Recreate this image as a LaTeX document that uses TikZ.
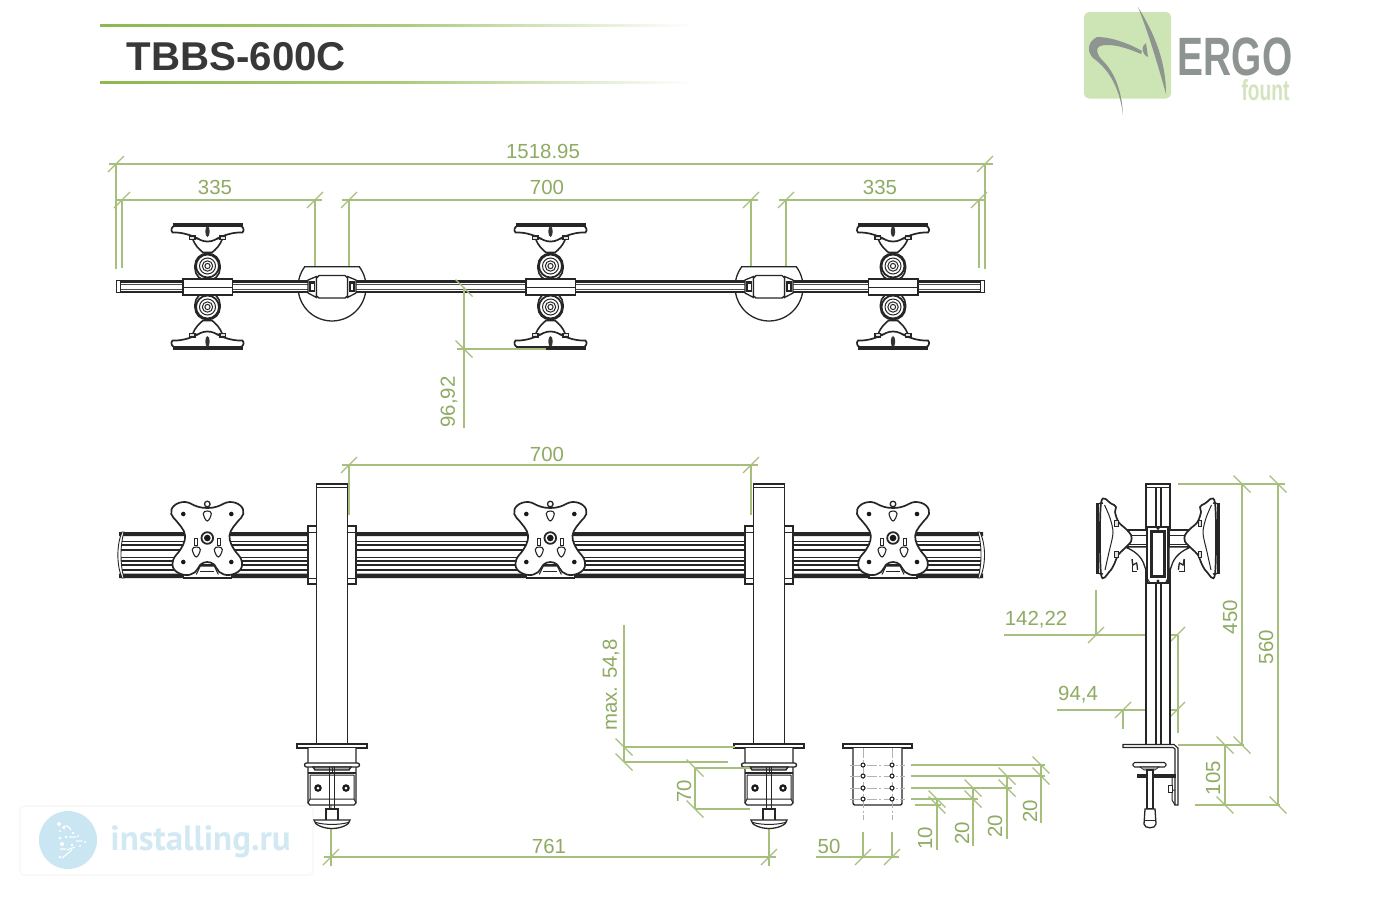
\documentclass[tikz,border=0pt]{standalone}
\usepackage{fontspec}
\setmainfont{Liberation Sans}
\newfontfamily\wmfont{PT Sans}
\definecolor{dimgreen}{HTML}{A6BF7C}
\definecolor{dimtext}{HTML}{8FAA62}
\definecolor{titlegreen}{HTML}{8DB84F}
\definecolor{logobg}{HTML}{CDE4B4}
\definecolor{logogray}{HTML}{8E9591}
\definecolor{fountgreen}{HTML}{D3E3BE}
\definecolor{wmblue}{HTML}{CBE6F3}
\definecolor{wmtext}{HTML}{D2E9F4}
\tikzset{
  dimline/.style={draw=dimgreen,line width=0.6pt},
  dimlabel/.style={text=dimtext,inner sep=0pt,font=\fontsize{10.2pt}{12pt}\selectfont},
  part/.style={draw=black!85,line width=0.65pt,fill=white},
  thin part/.style={draw=black!85,line width=0.5pt},
  heavy part/.style={draw=black!85,line width=1.1pt},
  center dash/.style={draw=black!30,line width=0.4pt,dash pattern=on 5pt off 1.2pt on 1pt off 1.2pt},
}
\newcommand{\tickf}[2]{\draw[dimline] (#1-8,#2+8) -- (#1+8,#2-8);}
\newcommand{\tickb}[2]{\draw[dimline] (#1-8.5,#2-8.5) -- (#1+8.5,#2+8.5);}
% top-view monitor head (upper half, local origin on rail axis)
\newcommand{\headhalf}{%
  \draw[part,line width=0.8pt,rounded corners=6pt] (-12.5,-6) rectangle (12.5,-33);
  \draw[part,line width=0.8pt] (-15,-48) .. controls (-12,-40) and (-8,-37) .. (-4.5,-34) -- (4.5,-34) .. controls (8,-37) and (12,-40) .. (15,-48) -- cycle;
  \draw[part,line width=0.85pt] (-33,-60.5) -- (33,-60.5) .. controls (36,-60) and (37,-56) .. (35,-54)
     .. controls (25,-54.5) and (15,-51) .. (7,-46.5) .. controls (3,-44.5) and (-3,-44.5) .. (-7,-46.5)
     .. controls (-15,-51) and (-25,-54.5) .. (-35,-54) .. controls (-37,-56) and (-36,-60) .. (-33,-60.5) -- cycle;
  \draw[heavy part] (-35,-62) -- (35,-62);
  \draw[part,fill=black!12] (-18,-50.5) rectangle (-12.5,-47);
  \draw[part,fill=black!12] (18,-50.5) rectangle (12.5,-47);
  \fill[black!80] (0,-55) ellipse[x radius=2.2,y radius=5.5];
  \draw[part,line width=0.9pt] (0,-20.5) circle[radius=11.5];
  \draw[thin part] (0,-20.5) circle[radius=8];
  \draw[thin part] (0,-20.5) circle[radius=5.2];
  \draw[thin part] (0,-20.5) circle[radius=2.6];
}
\newcommand{\tophead}[1]{%
  \begin{scope}[shift={(#1,286.5)}]\headhalf\end{scope}
  \begin{scope}[shift={(#1,286.5)},yscale=-1]\headhalf\end{scope}
  \draw[part] (#1-24.5,279) rectangle (#1+25,295);
  \draw[thin part] (#1-24.5,287.5) -- (#1+25,287.5);
}
\newcommand{\topjoint}[1]{%
  \draw[part,fill=white] (#1+27.3,266.7) arc[start angle=-36.6,end angle=216.6,radius=34] -- cycle;
}
\newcommand{\topjointbox}[1]{%
  \draw[part] (#1-24,280) -- (#1-15.5,276.5) -- (#1-15.5,297.5) -- (#1-24,293) -- cycle;
  \draw[part] (#1+24,280) -- (#1+15.5,276.5) -- (#1+15.5,297.5) -- (#1+24,293) -- cycle;
  \fill[black!85] (#1-23,281) rectangle (#1-17,292);
  \fill[white] (#1-21,284) rectangle (#1-18.5,289.5);
  \fill[black!85] (#1+23,281) rectangle (#1+17,292);
  \fill[white] (#1+21,284) rectangle (#1+18.5,289.5);
  \draw[part,line width=0.7pt] (#1-15.5,278) -- (#1-13,275.5) -- (#1+13,275.5) -- (#1+15.5,278) -- (#1+15.5,296) -- (#1+13,298) -- (#1-13,298) -- (#1-15.5,296) -- cycle;
}
\newcommand{\keyhole}[2]{\draw[part,line width=0.55pt] plot[smooth cycle,tension=0.75] coordinates {(#1-4,#2-2.5) (#1,#2-5) (#1+4,#2-2.5) (#1,#2+5)};}
\newcommand{\fronthead}[1]{%
  \begin{scope}[shift={(#1,538)}]
    \draw[part] (-24,30) -- (-24,40) -- (24,40) -- (24,30);
    \draw[part] (0,-34) circle[radius=2.8];
    \draw[part,line width=0.85pt] plot[smooth cycle,tension=0.7] coordinates {
      (0,-30) (10,-31.5) (22,-36) (33,-32.5) (36,-24) (30,-16) (23.5,-7) (22.5,2) (27,11.7) (34,21.7) (33,31.7) (22,37) (12,34) (7,26.7) (0,24)
      (-7,26.7) (-12,34) (-22,37) (-33,31.7) (-34,21.7) (-27,11.7) (-22.5,2) (-23.5,-7) (-30,-16) (-36,-24) (-33,-32.5) (-22,-36) (-10,-31.5)};
    \draw[thin part] (-11,36.5) -- (-7,28) -- (7,28) -- (11,36.5);
    \draw[thin part] (-7,33) -- (7,33);
    \fill[black!90] (-24,-24) circle[radius=2.3] (24,-24) circle[radius=2.3] (-24,24) circle[radius=2.3] (24,24) circle[radius=2.3];
    \keyhole{0}{-22}\keyhole{-11}{14}\keyhole{11}{14}
    \draw[part,line width=0.5pt] (-13,0) rectangle (-10,7);
    \draw[part,line width=0.5pt] (13,0) rectangle (10,7);
    \draw[part,line width=0.9pt] (0,0) circle[radius=5.8];
    \fill[black!90] (0,0) circle[radius=3.3];
  \end{scope}
}
\newcommand{\frontpost}[1]{%
  \draw[part] (#1-24,526) rectangle (#1-15.5,584);
  \draw[thin part] (#1-24,532) -- (#1-15.5,532) (#1-24,578) -- (#1-15.5,578);
  \draw[part] (#1+24,526) rectangle (#1+15.5,584);
  \draw[thin part] (#1+24,532) -- (#1+15.5,532) (#1+24,578) -- (#1+15.5,578);
  \draw[part] (#1-15.5,484) rectangle (#1+15.5,745);
  \draw[heavy part] (#1-15.5,484) -- (#1+15.5,484);
  \draw[thin part] (#1-15.5,487) -- (#1+15.5,487);
}
\newcommand{\frontclamp}[1]{%
  \draw[part] (#1-24,748) -- (#1-24,803) -- (#1-22,805) -- (#1+22,805) -- (#1+24,803) -- (#1+24,748);
  \draw[part,rounded corners=1pt] (#1-27.5,763) rectangle (#1+27.5,767);
  \draw[part,fill=black!35] (#1-19,767) -- (#1+19,767) -- (#1+17,770) -- (#1-17,770) -- cycle;
  \draw[part,line width=0.7pt] (#1-24,773) -- (#1+24,773);
  \draw[thin part] (#1-22,775) -- (#1+22,775) (#1-22,775) -- (#1-22,799) -- (#1+22,799) -- (#1+22,775) (#1-22,799) -- (#1-24,803) (#1+22,799) -- (#1+24,803);
  \draw[part,line width=0.7pt,fill=none] (#1-2.5,767) -- (#1-2.5,809) (#1+2.5,767) -- (#1+2.5,809);
  \draw[thin part] (#1,767) -- (#1,773);
  \fill[black!90] (#1-14,788) circle[radius=3.8];
  \fill[white] (#1-14,788) circle[radius=1.5];
  \fill[black!90] (#1+14,788) circle[radius=3.8];
  \fill[white] (#1+14,788) circle[radius=1.5];
  \draw[part] (#1-6,820) -- (#1-6,809) -- (#1+6,809) -- (#1+6,820);
  \draw[part] (#1-18,820) -- (#1+18,820) .. controls (#1+18,825) and (#1+8,828.5) .. (#1,828.5) .. controls (#1-8,828.5) and (#1-18,825) .. (#1-18,820) -- cycle;
  \draw[thin part] (#1-16,822.5) .. controls (#1-8,825) and (#1+8,825) .. (#1+16,822.5);
}
\newcommand{\sidehalf}{%
  % local x = screen x - 1158
  \draw[part] (-33,530) rectangle (-11,547);
  \draw[thin part] (-33,535.7) -- (-11,535.7) (-33,544) -- (-11,544);
  \draw[part] (-33,547) .. controls (-25,550) and (-16,556) .. (-13.5,566) -- (-11,573) -- (-11,547) -- cycle;
  \draw[part] plot[smooth,tension=0.5] coordinates {(-26,559) (-25,565) (-21.5,563) (-20.5,570)};
  \draw[thin part] (-26,559) -- (-26,571) -- (-21,571);
  \draw[part] (-35,531.5) -- (-33,531.5) -- (-33,545) -- (-35,545) -- cycle;
  \draw[part,line width=0.85pt] plot[smooth cycle,tension=0.55] coordinates {(-57,503) (-47,503.5) (-42,507) (-43,512) (-39.5,522) (-32,529) (-27,535) (-27,541.5) (-33.5,548.5) (-40,555) (-43.5,563.5) (-48.5,571.5) (-57,574)};
  \draw[thin part] plot[smooth,tension=0.5] coordinates {(-53.5,505) (-48,518) (-45,533) (-49,552) (-53,570)};
  \draw[part,line width=0.5pt,fill=black!12] (-43.5,520) rectangle (-40,526);
  \draw[part,line width=0.5pt,fill=black!12] (-43.5,551) rectangle (-40,557);
  \fill[black!85] (-62,503) rectangle (-59,574);
  \draw[part,line width=0.7pt,fill=none] (-59,503.5) -- (-55,503) (-59,573.5) -- (-55,574);
}
\begin{document}
\begin{tikzpicture}[x=0.5pt,y=-0.5pt]
\useasboundingbox (0,0) rectangle (1400,900);
\fill[white] (0,0) rectangle (1400,900);

% ---------- header ----------
\shade[left color=titlegreen,right color=white,middle color=titlegreen!75] (100,24.2) rectangle (692,26.2);
\shade[left color=titlegreen,right color=white,middle color=titlegreen!75] (100,81) rectangle (692,83);
\node[anchor=west,inner sep=0pt,text=black!78,font=\fontsize{20.1pt}{24pt}\selectfont\bfseries] (title) at (126.5,57) {TBBS-600C};

% ---------- logo ----------
\fill[logobg,rounded corners=2.5pt] (1084,12) rectangle (1171,98.5);
\fill[logogray] (1138,7) .. controls (1149,25) and (1166,55) .. (1166,94) .. controls (1157,62) and (1149,35) .. (1138,7) -- cycle;
\fill[logogray] (1123,115) .. controls (1120,90) and (1110,70) .. (1093,58) .. controls (1087,52) and (1087,42) .. (1097,37)
  .. controls (1112,37) and (1130,44) .. (1142,51) -- (1141,54) .. controls (1125,47) and (1110,43) .. (1100,46)
  .. controls (1095,48) and (1097,55) .. (1102,60) .. controls (1115,72) and (1122,92) .. (1123,115) -- cycle;
\fill[logogray] (1146,43) .. controls (1141,46) and (1141,54) .. (1148,57) -- cycle;
\node[inner sep=0pt,text=logogray,text height=19.3pt,text depth=0pt,font=\fontsize{27pt}{30pt}\selectfont\bfseries,xscale=0.72] (logoword) at (1235,56.5) {ERGO};
\node[inner sep=0pt,text=fountgreen,text height=10.3pt,text depth=0pt,font=\fontsize{14.5pt}{16pt}\selectfont\bfseries,xscale=0.66] (logosub) at (1265.5,90.5) {fount};

% ---------- watermark ----------
\draw[draw=black!3,line width=0.6pt,fill=white,rounded corners=2pt] (20,806) rectangle (313,875);
\fill[wmblue] (68,840) circle[radius=29];
\begin{scope}[draw=white,line width=0.55pt,fill=white]
  \fill (59,824) circle[radius=2] (64,828) circle[radius=1.4] (60,831) circle[radius=1.2] (73,833) circle[radius=1.4] (78,836) circle[radius=1.2] (60,838) circle[radius=1.5] (66,837) circle[radius=1.3] (85,842) circle[radius=1.1] (62,844) circle[radius=2] (72,845) circle[radius=1.4] (80,846) circle[radius=1.2] (60,857) circle[radius=1.4];
  \draw (62,828) .. controls (65,824) and (69,826) .. (71,830);
  \draw (69,837) -- (76,837) (76,841) -- (82,841) (67,850) -- (75,847) (62,858) -- (72,850) (60,849) -- (66,849);
\end{scope}
\node[anchor=west,inner sep=0pt,text=wmtext,font=\fontsize{17.5pt}{20pt}\wmfont\bfseries] (wm) at (110,841.5) {installing.ru};

% ---------- dimension lines, top view (behind parts) ----------
\draw[dimline] (109,164) -- (993,164) (116,164) -- (116,269) (985,164) -- (985,269);
\tickf{116}{164}\tickf{985}{164}
\draw[dimline] (115,200) -- (322,200) (122,200) -- (122,268) (315,200) -- (315,266);
\tickf{122}{200}\tickf{315}{200}
\draw[dimline] (342,200) -- (758,200) (349,200) -- (349,266) (751,200) -- (751,266);
\tickf{349}{200}\tickf{751}{200}
\draw[dimline] (779,200) -- (986,200) (786,200) -- (786,266) (979,200) -- (979,268);
\tickf{786}{200}\tickf{979}{200}
\node[dimlabel] (d1) at (543,151) {1518.95};
\node[dimlabel] (d2) at (215,187) {335};
\node[dimlabel] (d3) at (547,187) {700};
\node[dimlabel] (d4) at (880,187) {335};

% ---------- top view ----------
\topjoint{332}\topjoint{769}
\draw[part,draw=none] (116,280) rectangle (984,293);
\foreach \yy in {281.5,291.8}{\draw[draw=black!85,line width=1.15pt] (116,\yy) -- (984,\yy);}
\draw[draw=black!70,line width=0.35pt] (120,284.5) -- (980,284.5) (120,289.5) -- (980,289.5);
\draw[part,line width=0.4pt] (116,280.5) rectangle (120,292.5);
\draw[part,line width=0.4pt] (980,280.5) rectangle (984,292.5);
\topjointbox{332}\topjointbox{769}
\tophead{207.5}\tophead{550.5}\tophead{893}

% 96,92
\draw[dimline] (464,287) -- (464,428) (457,349) -- (546,349);
\tickb{464}{288}\tickb{464}{349}
\node[dimlabel,rotate=90] (d5) at (449,402) {96,92};

% ---------- front view: dimension 700 ----------
\draw[dimline] (342,465) -- (758,465) (349,465) -- (349,515) (751,465) -- (751,515);
\tickf{349}{465}\tickf{751}{465}
\node[dimlabel] (d6) at (547,454) {700};

% ---------- front view: 761 ----------
\draw[dimline] (331,793) -- (331,866) (769,828) -- (769,866) (324,857) -- (776,857);
\tickf{331}{857}\tickf{769}{857}
\node[dimlabel] (d7) at (549,846) {761};

% ---------- front view ----------
\fill[white] (119,532.5) rectangle (984,577.5);
\fill[black!85] (119,532) rectangle (983,536) (119,573.5) rectangle (983,578);
\foreach \yy in {541.5,545,550,557.5,561,565,570}{\draw[draw=black!85,line width=0.65pt] (119,\yy) -- (983,\yy);}
\draw[part,line width=0.45pt] (122,532) .. controls (116.5,545) and (116.5,565) .. (122,578) -- (124,578) .. controls (120,565) and (120,545) .. (124,532) -- cycle;
\draw[part,line width=0.45pt] (980,532) .. controls (986,545) and (986,565) .. (980,578) -- (978,578) .. controls (982,565) and (982,545) .. (978,532) -- cycle;
\fronthead{207.3}\fronthead{550.3}\fronthead{893}
\frontpost{332}\frontpost{769}
\draw[part] (297,744) rectangle (367,748);
\draw[part] (734,744) rectangle (804,748);
\frontclamp{332}\frontclamp{769}

% ---------- max. 54,8 and 70 ----------
\draw[dimline] (624,625) -- (624,762) (624,747) -- (735,747) (624,762) -- (728,762);
\tickb{624}{747}\tickb{624}{762}
\node[dimlabel,rotate=90] (d8) at (611,685) {max. 54,8};
\draw[dimline] (695,768) -- (695,809) (695,768) -- (750,768) (695,809) -- (750,809);
\tickb{695}{768}\tickb{695}{809}
\node[dimlabel,rotate=90] (d9) at (684,791) {70};

% ---------- base plate detail ----------
\draw[part] (843,744) rectangle (912,748);
\draw[part,rounded corners=1pt] (853,748) -- (853,805) -- (902,805) -- (902,748);
\draw[center dash] (863,748) -- (863,820) (892,748) -- (892,820);
\draw[center dash] (850,765) -- (905,765) (850,776) -- (905,776) (850,788) -- (905,788) (850,799) -- (905,799);
\foreach \yy in {765,776,788,799}{
  \draw[part,line width=0.55pt] (863,\yy) circle[radius=2];
  \draw[part,line width=0.55pt] (892,\yy) circle[radius=2];
}
% 50
\draw[dimline] (863,832) -- (863,857) (892,832) -- (892,857) (816,857) -- (899,857);
\tickf{863}{857}\tickf{892}{857}
\node[dimlabel] (d10) at (829,846) {50};
% hole pitch
\draw[dimline] (911,765) -- (1045,765) (911,776) -- (1045,776) (911,788) -- (1012,788) (911,799) -- (978,799) (915,805) -- (941,805);
\draw[dimline] (1041,765) -- (1041,823) (1007,776) -- (1007,839) (973,788) -- (973,846) (937,799) -- (937,850);
\tickb{1041}{765}\tickb{1041}{776}\tickb{1007}{776}\tickb{1007}{788}\tickb{973}{788}\tickb{973}{799}\tickb{937}{799}\tickb{937}{805}
\node[dimlabel,rotate=90] (d11) at (925,838) {10};
\node[dimlabel,rotate=90] (d12) at (962,833) {20};
\node[dimlabel,rotate=90] (d13) at (995,826) {20};
\node[dimlabel,rotate=90] (d14) at (1030,811) {20};

% ---------- side view: dims behind ----------
\draw[dimline] (1178,484) -- (1285,484) (1242,484) -- (1242,745) (1278,484) -- (1278,805);
\tickb{1242}{484}\tickb{1278}{484}
\draw[dimline] (1004,635) -- (1178,635) (1096,590) -- (1096,635) (1178,635) -- (1178,733);
\tickf{1096}{635}\tickf{1177}{635}
\draw[dimline] (1057,710) -- (1178,710) (1123,710) -- (1123,729);
\tickf{1123}{710}\tickf{1177}{710}
\draw[dimline] (1178,745) -- (1244,745) (1225,745) -- (1225,805) (1195,805) -- (1280,805);
\tickb{1225}{745}\tickb{1242}{745}\tickb{1225}{805}\tickb{1278}{805}
\node[dimlabel] (d15) at (1036,620) {142,22};
\node[dimlabel] (d16) at (1078,695) {94,4};
\node[dimlabel,rotate=90] (d17) at (1230,617) {450};
\node[dimlabel,rotate=90] (d18) at (1266,647) {560};
\node[dimlabel,rotate=90] (d19) at (1213,778) {105};

% ---------- side view ----------
\draw[part] (1146,484) rectangle (1170,745);
\draw[heavy part] (1146,484) -- (1170,484);
\draw[thin part] (1146,487) -- (1170,487);
\draw[part,fill=none] (1156,487) -- (1156,745) (1161,487) -- (1161,745);
\begin{scope}[shift={(1158,0)}]\sidehalf\end{scope}
\begin{scope}[shift={(1158,0)},xscale=-1]\sidehalf\end{scope}
\draw[part,line width=0.7pt] (1147,527) rectangle (1168,583);
\fill[black!85] (1150,530) rectangle (1165.5,578);
\fill[white] (1152.5,533) rectangle (1163,575);
\draw[thin part] (1147,578) -- (1150,583) (1168,578) -- (1165.5,583);
\fill[black!85] (1158,528.5) circle[radius=1.7] (1158,581) circle[radius=1.7];
% side clamp
\draw[part,line width=0.55pt,fill=white] (1123,744.5) -- (1174,744.5) -- (1178,748) -- (1178,805) -- (1175,805) -- (1175,749) -- (1173,747.5) -- (1123,747.5) -- cycle;
\draw[part,line width=0.5pt,fill=none] (1172,790) -- (1175,790) (1172,776) -- (1172,800) -- (1175,805);
\draw[part,line width=0.55pt] (1138,775) rectangle (1175,777);
\draw[part,line width=0.5pt] (1168,785) rectangle (1172,792);
\draw[part,line width=0.55pt,rounded corners=0.8pt] (1133,762.5) rectangle (1166,767);
\draw[part,fill=black!35,line width=0.3pt] (1140,767) -- (1159,767) -- (1155,770) -- (1144,770) -- cycle;
\draw[part] (1147,770) rectangle (1153,809);
\draw[part] (1145,809) -- (1155,809) -- (1156,824) .. controls (1156,829) and (1144,829) .. (1144,824) -- cycle;
\draw[thin part] (1144,820) -- (1156,820);
\end{tikzpicture}
\end{document}
